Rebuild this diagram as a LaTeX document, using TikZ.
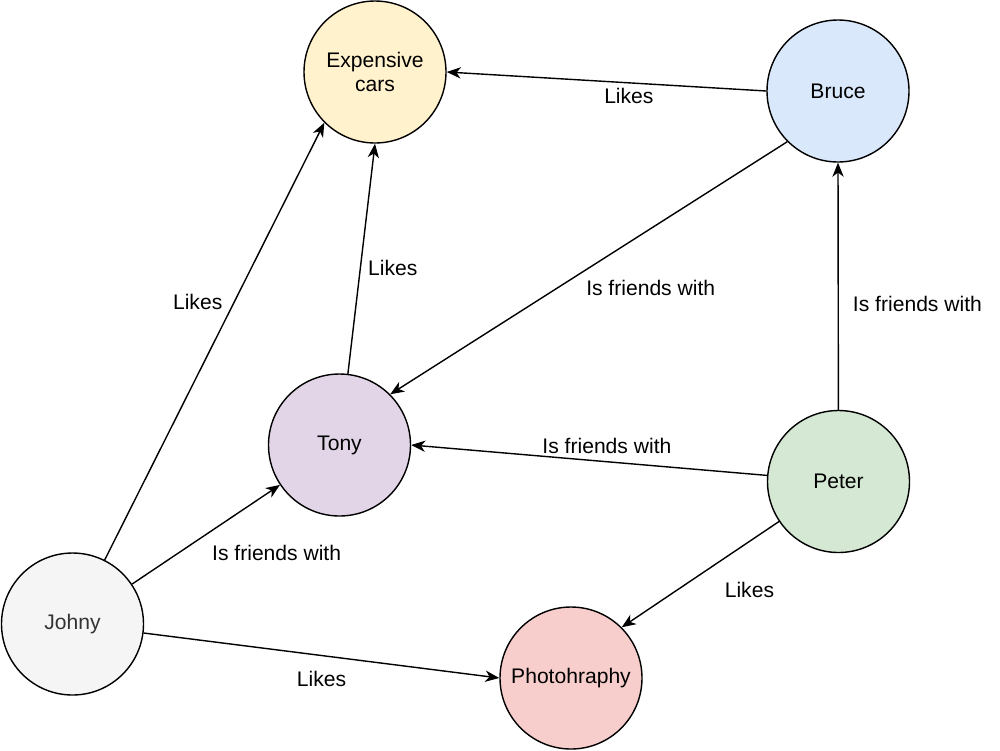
\documentclass[tikz,border=0pt]{standalone}
\usepackage{fontspec}
\setmainfont{Liberation Sans}
\usetikzlibrary{arrows.meta}
\definecolor{carsfill}{HTML}{FFF2CC}
\definecolor{brucefill}{HTML}{DAE8FC}
\definecolor{tonyfill}{HTML}{E1D5E7}
\definecolor{peterfill}{HTML}{D5E8D4}
\definecolor{photofill}{HTML}{F8CECC}
\definecolor{johnyfill}{HTML}{F5F5F5}
\begin{document}
\begin{tikzpicture}[
    >={Stealth[length=10pt, width=8pt, inset=3pt]},
    font=\fontsize{15pt}{17pt}\selectfont,
    basecirc/.style={
      circle,
      draw=black,
      line width=1pt,
      minimum size=3.55cm,
      inner sep=0pt,
      align=center
    },
    topic/.style={basecirc, fill=#1},
    person/.style={basecirc, fill=#1},
    rel/.style={->, draw=black, line width=1pt},
    lab/.style={inner sep=1pt, text=black}
  ]
    \useasboundingbox (0,0) rectangle (25,-18.75);

    \node[topic=carsfill] (cars) at (9.375,-1.8) {Expensive\\cars};
    \node[person=brucefill] (bruce) at (20.95,-2.275) {Bruce};
    \node[person=tonyfill] (tony) at (8.4875,-11.125) {Tony};
    \node[person=peterfill] (peter) at (20.9625,-12.0375) {Peter};
    \node[person=johnyfill, text=black!80] (johny) at (1.8125,-15.6) {Johny};
    \node[topic=photofill] (photo) at (14.275,-16.95) {Photohraphy};

    \draw[rel] (bruce.west) -- node[lab, pos=.43, below=2pt] (likesbc) {Likes} (cars.east);
    \draw[rel] (bruce.225) -- node[lab, pos=.344, yshift=-42pt] (friendsbt) {Is friends with} (tony.45);
    \draw[rel] (peter) -- node[lab, pos=.43, right=9pt] (friendspb) {Is friends with} (bruce.south);
    \draw[rel] (peter) -- node[lab, pos=.45, above=4pt] (friendspt) {Is friends with} (tony.east);
    \draw[rel] (peter) -- node[lab, pos=.33, xshift=15.9pt, yshift=-23.7pt] (likespp) {Likes} (photo.45);
    \draw[rel] (tony) -- node[lab, pos=.46, right=4pt] (likestc) {Likes} (cars.south);
    \draw[rel] (johny) -- node[lab, pos=.59, left=7pt] (likesjc) {Likes} (cars.225);
    \draw[rel] (johny) -- node[lab, pos=.78, xshift=20.8pt, yshift=-33.1pt] (friendsjt) {Is friends with} (tony);
    \draw[rel] (johny) -- node[lab, midway, below=10pt] (likesjp) {Likes} (photo.west);
  \end{tikzpicture}
\end{document}
